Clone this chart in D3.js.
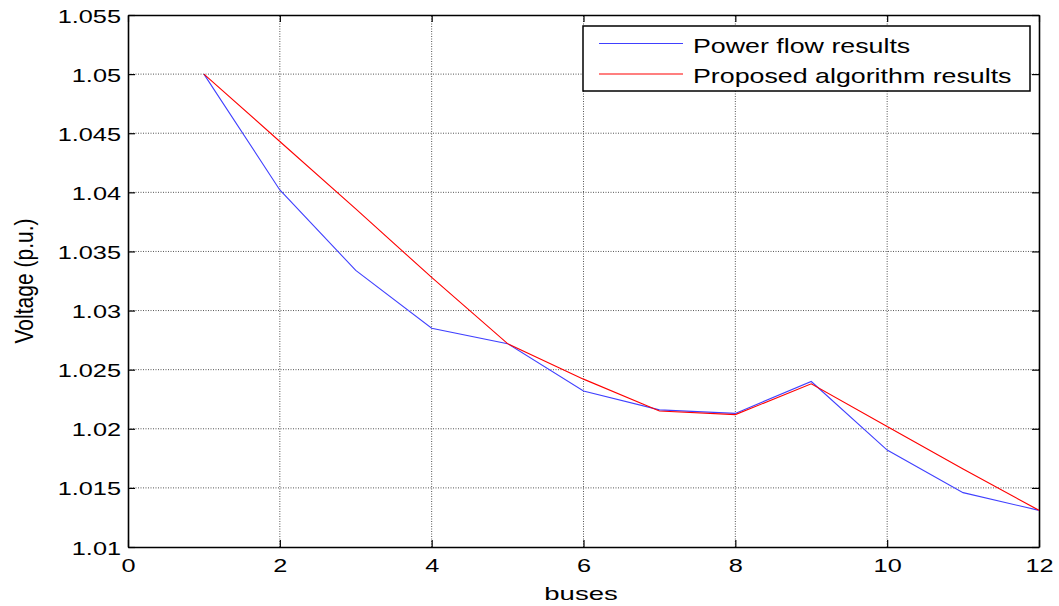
<!DOCTYPE html>
<html>
<head>
<meta charset="utf-8">
<script src="https://cdn.jsdelivr.net/npm/d3@7"></script>
<style>
  body { margin: 0; background: #fff; }
  svg text { font-family: "Liberation Sans", Arial, sans-serif; fill: #000; }
</style>
</head>
<body>
<svg id="chart"></svg>
<script>
// bus numbers and voltage magnitudes (p.u.)
var buses = [1, 2, 3, 4, 5, 6, 7, 8, 9, 10, 11, 12];
var powerFlow = [1.05, 1.0402, 1.0334, 1.0285, 1.0272, 1.0232, 1.0216, 1.0213, 1.0240, 1.0182, 1.0146, 1.0131];
var proposed = [1.05, 1.0443, 1.0386, 1.0328, 1.0272, 1.0242, 1.0215, 1.0212, 1.0238, 1.0202, 1.0166, 1.0131];
var xTicks = [0, 2, 4, 6, 8, 10, 12];
var yTicks = [1.01, 1.015, 1.02, 1.025, 1.03, 1.035, 1.04, 1.045, 1.05, 1.055];
var seriesNames = ["Power flow results", "Proposed algorithm results"];
var seriesColors = ["#4040ff", "#ff0000"];

var width = 1059, height = 606;
var margin = {top: 15, right: 20, bottom: 59, left: 128};
var stretch = 1.36; // text in the picture is drawn wide

var svg = d3.select("#chart").attr("width", width).attr("height", height);

var x = d3.scaleLinear().domain([0, 12]).range([margin.left, width - margin.right]);
var y = d3.scaleLinear().domain([1.01, 1.055]).range([height - margin.bottom, margin.top]);

// grid
var grid = svg.append("g").attr("class", "grid");
grid.selectAll(".gx").data(xTicks.slice(1, -1)).enter().append("line")
    .attr("x1", d => x(d)).attr("x2", d => x(d))
    .attr("y1", y(1.01)).attr("y2", y(1.055))
    .attr("stroke", "#555").attr("stroke-width", 1).attr("stroke-dasharray", "1,1.5");
grid.selectAll(".gy").data(yTicks.slice(1, -1)).enter().append("line")
    .attr("x1", x(0)).attr("x2", x(12))
    .attr("y1", d => y(d)).attr("y2", d => y(d))
    .attr("stroke", "#555").attr("stroke-width", 1).attr("stroke-dasharray", "1,1.5");

// axes with inward ticks
var fmtY = d => d3.format(".3~f")(d);
var bottomAxis = svg.append("g")
    .attr("transform", `translate(0,${y(1.01)})`)
    .call(d3.axisBottom(x).tickValues(xTicks).tickSizeInner(-7).tickSizeOuter(0));
var topAxis = svg.append("g")
    .attr("transform", `translate(0,${y(1.055)})`)
    .call(d3.axisTop(x).tickValues(xTicks).tickSizeInner(-7).tickSizeOuter(0).tickFormat(""));
var leftAxis = svg.append("g")
    .attr("transform", `translate(${x(0)},0)`)
    .call(d3.axisLeft(y).tickValues(yTicks).tickSizeInner(-7).tickSizeOuter(0).tickFormat(fmtY));
var rightAxis = svg.append("g")
    .attr("transform", `translate(${x(12)},0)`)
    .call(d3.axisRight(y).tickValues(yTicks).tickSizeInner(-7).tickSizeOuter(0).tickFormat(""));

[bottomAxis, topAxis, leftAxis, rightAxis].forEach(function(a) {
  a.select(".domain").attr("stroke", "#000").attr("stroke-width", 1.6);
  a.selectAll(".tick line").attr("stroke", "#000").attr("stroke-width", 1.2);
  a.selectAll(".tick text").style("font-size", "18.6px").attr("fill", "#000");
});
bottomAxis.selectAll(".tick text")
    .attr("y", 0).attr("dy", null)
    .attr("transform", `translate(0,25) scale(${stretch},1)`);
leftAxis.selectAll(".tick text")
    .attr("x", 0).attr("dy", "0.38em")
    .attr("transform", `translate(-7,0) scale(${stretch},1)`);

// lines
var line = d3.line().x((d, i) => x(buses[i])).y(d => y(d));
[powerFlow, proposed].forEach(function(s, k) {
  svg.append("path").datum(s)
      .attr("fill", "none")
      .attr("stroke", seriesColors[k])
      .attr("stroke-width", 1.1)
      .attr("d", line);
});

// axis labels
svg.append("text")
    .attr("text-anchor", "middle")
    .attr("transform", `translate(581,600) scale(1.48,1)`)
    .style("font-size", "18.6px")
    .text("buses");
svg.append("text")
    .attr("transform", `translate(33,281) rotate(-90) scale(1.13,${stretch})`)
    .attr("text-anchor", "middle")
    .style("font-size", "18.6px")
    .text("Voltage (p.u.)");

// legend
var legend = svg.append("g").attr("transform", "translate(583,26)");
legend.append("rect")
    .attr("width", 447).attr("height", 65)
    .attr("fill", "#fff").attr("stroke", "#000").attr("stroke-width", 1.5);
seriesNames.forEach(function(name, k) {
  var cy = 17.5 + k * 30.5;
  legend.append("line")
      .attr("x1", 16).attr("x2", 100).attr("y1", cy).attr("y2", cy)
      .attr("stroke", seriesColors[k]).attr("stroke-width", 1.1);
  legend.append("text")
      .attr("transform", `translate(110,${cy + 9.3}) scale(1.34,1)`)
      .style("font-size", "20px")
      .text(name);
});
</script>
</body>
</html>
